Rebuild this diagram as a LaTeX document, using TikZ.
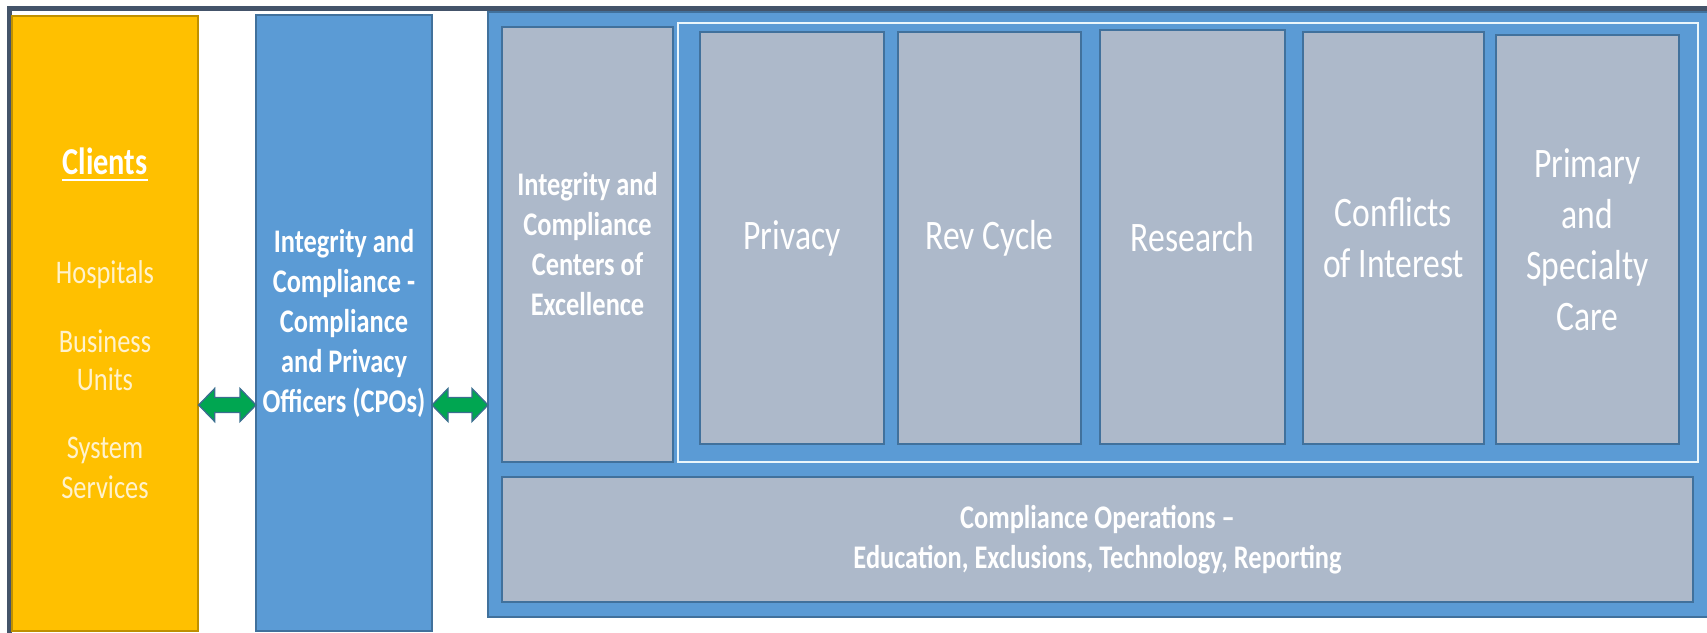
\documentclass[tikz,border=0pt]{standalone}
\usepackage{fontspec}
\setmainfont{Carlito}[FakeStretch=0.8]
\usetikzlibrary{calc}

\definecolor{frameDark}{HTML}{44546A}
\definecolor{clientGold}{HTML}{FFC000}
\definecolor{clientEdge}{HTML}{BF9000}
\definecolor{clientText}{HTML}{FFF2CC}
\definecolor{panelBlue}{HTML}{5B9BD5}
\definecolor{blueEdge}{HTML}{41719C}
\definecolor{unitGray}{HTML}{ADB9CA}
\definecolor{groupLine}{HTML}{EAF6FB}
\definecolor{arrowGreen}{HTML}{00A651}
\definecolor{arrowEdge}{HTML}{3A6E8F}

% double-headed block arrow between two named points
\newcommand{\dblarrowpath}[2]{%
  \draw[flowarrow] (#1) -- ++(16,-16.5) -- ++(0,9) -- ($(#2)+(-16,-7.5)$)
    -- ++(0,-9) -- (#2) -- ++(-16,16.5) -- ++(0,-9) -- ($(#1)+(16,7.5)$)
    -- ++(0,9) -- cycle;}

\begin{document}
\begin{tikzpicture}[x=1pt,y=-1pt,
  panel/.style={draw=blueEdge, line width=1.5pt, fill=panelBlue, inner sep=0pt, outer sep=0pt,
    text=white, align=center, font=\fontsize{33}{40}\selectfont\bfseries},
  unit/.style={draw=blueEdge, line width=2.2pt, fill=unitGray, inner sep=0pt, outer sep=0pt,
    text=white, align=center},
  boldtxt/.style={font=\fontsize{33}{40}\selectfont\bfseries},
  bigtxt/.style={font=\fontsize{42}{51}\selectfont},
  clientline/.style={anchor=base, inner sep=0pt, text=clientText, font=\fontsize{33}{40}\selectfont},
  flowarrow/.style={draw=arrowEdge, line width=1.3pt, fill=arrowGreen, line join=miter}]

\useasboundingbox (0,0) rectangle (1707,632);

% page frame
\draw[frameDark, line width=4.5pt] (9.5,8.5) rectangle (1730,660);

% client column
\node[draw=clientEdge, line width=1.3pt, fill=clientGold, inner sep=0pt,
      minimum width=186pt, minimum height=615pt] (clients) at (105,323.5) {};
\node[anchor=base, inner sep=0pt, text=white, font=\fontsize{38}{46}\selectfont\bfseries]
      (clientsHead) at (105,174) {Clients};
\draw[white, line width=2pt] ([yshift=-6pt]clientsHead.base west) -- ([yshift=-6pt]clientsHead.base east);
\node[clientline] (hosp) at (105,283) {Hospitals};
\node[clientline] (bus) at (105,352) {Business};
\node[clientline] (units) at (105,390) {Units};
\node[clientline] (sys) at (105,458) {System};
\node[clientline] (serv) at (105,498) {Services};

% compliance and privacy officers
\node[panel, minimum width=176pt, minimum height=616pt] (cpo) at (344,323)
  {Integrity and\\Compliance -\\Compliance\\and Privacy\\Officers (CPOs)};

% program area
\node[panel, minimum width=1224pt, minimum height=605pt] (main) at (1100,314.5) {};

\node[unit, boldtxt, minimum width=171pt, minimum height=435pt] (coe) at (587.5,244.5)
  {Integrity and\\Compliance\\Centers of\\Excellence};

\node[draw=groupLine, line width=2pt, inner sep=0pt, minimum width=1020pt, minimum height=439pt]
  (coegroup) at (1188,242.5) {};

\node[unit, bigtxt, minimum width=184pt, minimum height=412pt] (privacy) at (792,238) {Privacy};
\node[unit, bigtxt, minimum width=183pt, minimum height=412pt] (revcycle) at (989.5,238) {Rev Cycle};
\node[unit, bigtxt, minimum width=185pt, minimum height=414pt] (research) at (1192.5,237) {Research};
\node[unit, bigtxt, minimum width=181pt, minimum height=412pt] (coi) at (1393.5,238) {Conflicts\\of Interest};
\node[unit, bigtxt, minimum width=183pt, minimum height=409pt] (primary) at (1587.5,239.5)
  {Primary\\and\\Specialty\\Care};

\node[unit, boldtxt, minimum width=1191pt, minimum height=125pt] (ops) at (1097.5,539.5)
  {Compliance Operations --\\Education, Exclusions, Technology, Reporting};

% two-way links
\coordinate (linkA) at (clients.east |- 0,405);
\coordinate (linkB) at (cpo.west |- 0,405);
\coordinate (linkC) at (cpo.east |- 0,405);
\coordinate (linkD) at (main.west |- 0,405);
\dblarrowpath{linkA}{linkB}
\dblarrowpath{linkC}{linkD}

\end{tikzpicture}
\end{document}
